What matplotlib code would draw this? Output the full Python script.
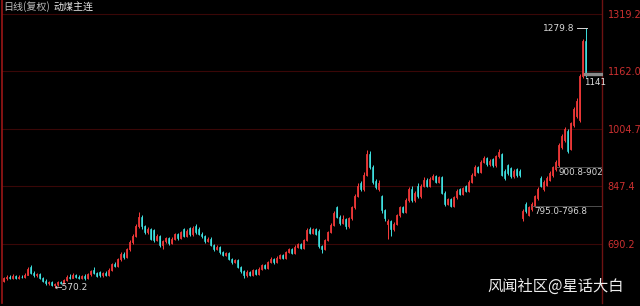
import numpy as np
import matplotlib
matplotlib.use('Agg')
import matplotlib.pyplot as plt

plt.rcParams['font.family'] = ['Noto Sans CJK SC', 'DejaVu Sans']

# daily candles, 动煤主连 (open / close / high / low)
opens = [588, 596, 601, 597, 603, 598, 601, 599, 606, 628,
         612, 604, 607, 596, 590, 583, 586, 578, 580, 586,
         584, 592, 601, 598, 604, 600, 597, 603, 596, 607,
         619, 611, 614, 604, 612, 606, 620, 636, 630, 648,
         664, 655, 676, 695, 712, 740, 765, 738, 722, 730,
         728, 700, 712, 688, 698, 706, 692, 704, 716, 706,
         730, 712, 734, 716, 740, 732, 718, 712, 698, 705,
         688, 676, 682, 668, 660, 665, 650, 640, 645, 628,
         615, 604, 614, 606, 618, 608, 622, 632, 625, 640,
         650, 640, 652, 660, 652, 668, 676, 666, 682, 690,
         680, 700, 732, 720, 730, 725, 684, 676, 700, 722,
         742, 790, 765, 748, 758, 738, 760, 790, 822, 858,
         840, 880, 935, 900, 862, 840, 820, 782, 745, 752,
         730, 745, 768, 790, 778, 810, 840, 810, 850, 820,
         850, 866, 850, 868, 876, 860, 872, 830, 800, 812,
         795, 818, 840, 828, 848, 835, 860, 880, 900, 888,
         915, 925, 908, 922, 905, 930, 935, 890, 905, 898,
         875, 895, 890, 760, 800, 770, 785, 795, 815, 870,
         840, 852, 865, 878, 895, 905, 955, 975, 1000, 950,
         1015, 1040, 1030, 1150, 1245]
closes = [596, 600, 597, 603, 598, 601, 599, 606, 622, 612,
          604, 607, 596, 590, 583, 586, 578, 580, 586, 584,
          592, 601, 598, 604, 600, 597, 603, 596, 607, 615,
          611, 603, 604, 610, 606, 620, 634, 630, 648, 662,
          655, 676, 695, 712, 740, 765, 738, 722, 730, 705,
          700, 712, 688, 698, 706, 692, 704, 716, 706, 722,
          712, 726, 716, 735, 722, 718, 712, 698, 705, 688,
          676, 682, 668, 660, 665, 650, 640, 645, 628, 615,
          604, 614, 606, 618, 608, 622, 632, 625, 640, 650,
          640, 652, 660, 652, 668, 676, 666, 682, 690, 680,
          700, 728, 720, 730, 718, 684, 676, 700, 722, 742,
          775, 765, 748, 758, 738, 760, 790, 822, 850, 840,
          880, 935, 900, 860, 845, 858, 782, 760, 752, 730,
          745, 768, 790, 778, 810, 840, 810, 830, 820, 850,
          866, 850, 868, 876, 860, 872, 830, 800, 812, 795,
          818, 835, 828, 842, 835, 860, 880, 900, 888, 915,
          925, 908, 918, 905, 930, 942, 880, 870, 885, 875,
          890, 878, 878, 780, 780, 790, 800, 820, 840, 850,
          860, 870, 885, 900, 915, 960, 985, 1005, 945, 1020,
          1060, 1080, 1150, 1245, 1155]
highs = [600, 604, 605, 607, 606, 604, 604, 610, 626, 632,
         616, 611, 610, 600, 593, 590, 589, 583, 589, 590,
         595, 606, 608, 612, 608, 604, 606, 607, 612, 620,
         626, 614, 617, 614, 616, 624, 638, 640, 652, 667,
         668, 680, 700, 718, 745, 777, 770, 742, 736, 733,
         732, 716, 715, 702, 710, 709, 708, 720, 719, 726,
         733, 730, 737, 740, 746, 736, 722, 715, 709, 708,
         691, 686, 685, 671, 669, 668, 653, 649, 648, 631,
         618, 618, 617, 622, 621, 626, 636, 635, 644, 654,
         653, 656, 664, 663, 672, 680, 679, 686, 694, 693,
         704, 733, 736, 735, 734, 730, 688, 704, 726, 747,
         780, 795, 768, 770, 762, 764, 795, 828, 856, 862,
         886, 947, 945, 905, 868, 866, 825, 786, 758, 756,
         749, 772, 795, 794, 815, 846, 850, 835, 856, 855,
         872, 870, 872, 881, 879, 876, 875, 834, 816, 815,
         822, 840, 844, 846, 852, 864, 885, 905, 904, 920,
         930, 928, 922, 926, 934, 950, 940, 894, 910, 902,
         895, 899, 894, 785, 804, 795, 806, 825, 845, 875,
         865, 875, 890, 904, 920, 965, 990, 1010, 1004, 1025,
         1066, 1090, 1155, 1250, 1279.8]
lows = [585, 592, 594, 595, 594, 595, 596, 597, 604, 609,
        600, 600, 593, 586, 579, 578, 574, 570.2, 576, 580,
        581, 589, 594, 596, 596, 593, 594, 592, 594, 603,
        608, 599, 600, 601, 602, 603, 617, 626, 627, 644,
        650, 652, 672, 690, 708, 735, 730, 716, 718, 700,
        696, 697, 682, 676, 694, 688, 689, 700, 702, 703,
        708, 709, 712, 713, 718, 714, 707, 694, 695, 684,
        672, 673, 664, 656, 657, 646, 636, 637, 624, 611,
        598, 601, 602, 603, 604, 605, 619, 621, 622, 637,
        636, 637, 649, 648, 649, 665, 662, 663, 679, 676,
        677, 697, 716, 717, 714, 680, 666, 673, 697, 719,
        739, 760, 743, 744, 732, 735, 757, 786, 818, 835,
        836, 876, 895, 855, 840, 836, 776, 754, 705, 712,
        726, 742, 765, 774, 775, 806, 806, 806, 815, 816,
        846, 846, 846, 864, 856, 856, 826, 795, 796, 790,
        792, 814, 824, 824, 831, 832, 856, 876, 884, 884,
        911, 904, 904, 900, 902, 926, 875, 865, 880, 870,
        871, 873, 873, 752, 776, 766, 781, 791, 811, 846,
        836, 848, 861, 874, 891, 900, 950, 970, 940, 946,
        1010, 1035, 1025, 1145, 1148]

ytick_vals = [1319.2, 1162.0, 1004.7, 847.4, 690.2]
gaps = [(795.0, '795.0-796.8', 176), (900.8, '900.8-902', 184)]
low_label = '570.2'
high_label = '1279.8'
last_label = '1141'

red = '#ff3c3c'
cyan = '#3fe0e0'

fig = plt.figure(figsize=(6.4, 3.06), dpi=100, facecolor='black')
ax = fig.add_axes([2/640, 3/306, 600/640, 303/306], facecolor='black')

o = np.array(opens, dtype=float)
c = np.array(closes, dtype=float)
h = np.array(highs, dtype=float)
l = np.array(lows, dtype=float)
x = np.arange(len(c))
up = c >= o

# wicks
ax.vlines(x[up], l[up], h[up], color=red, lw=0.7, zorder=3)
ax.vlines(x[~up], l[~up], h[~up], color=cyan, lw=0.7, zorder=3)
# bodies (red hollow, cyan filled)
body = np.maximum(np.abs(c - o), 1.5)
ax.bar(x[up], body[up], bottom=np.minimum(o, c)[up], width=0.6,
       facecolor='black', edgecolor=red, lw=0.6, zorder=4)
ax.bar(x[~up], body[~up], bottom=np.minimum(o, c)[~up], width=0.6,
       facecolor=cyan, edgecolor=cyan, lw=0.4, zorder=4)

ax.set_xlim(-0.5, 199.5)
ax.set_ylim(528.6, 1357.5)

for v in ytick_vals:
    ax.axhline(v, color='#3a0707', lw=0.8, zorder=1)

ax.yaxis.tick_right()
ax.set_yticks(ytick_vals)
ax.set_yticklabels(['%.1f' % v for v in ytick_vals], color='#cc3030', fontsize=7,
                   family='DejaVu Sans')
ax.tick_params(axis='y', length=0, pad=4)
ax.set_xticks([])

for side in ['top', 'bottom']:
    ax.spines[side].set_visible(False)
ax.spines['left'].set_color('#9a1616')
ax.spines['right'].set_color('#6e1212')
ax.spines['left'].set_linewidth(1.2)
ax.spines['right'].set_linewidth(1.0)

# gap markers
for price, txt, i0 in gaps:
    ax.plot([i0, 199.5], [price, price], color='#5a5a5a', lw=0.6, zorder=5)
    ax.text(i0 + 1, price - 4, txt, color='#d8d8d8', fontsize=6.3, va='top',
            ha='left', family='DejaVu Sans', zorder=6, clip_on=True)

# low / high markers
imin = int(np.argmin(l))
ax.text(imin, l[imin], '\u2190' + low_label, color='#d8d8d8', fontsize=6.5,
        va='center', ha='left', family='DejaVu Sans', zorder=6)
imax = int(np.argmax(h))
ax.plot([imax - 3, imax + 0.5], [h[imax], h[imax]], color='#d8d8d8', lw=0.7, zorder=6)
ax.text(imax - 3.7, h[imax], high_label, color='#d8d8d8', fontsize=6.5,
        va='center', ha='right', family='DejaVu Sans', zorder=6)

# last price marker
ax.fill_between([imax - 0.5, 199.5], c[-1] - 2, c[-1] + 4, color='#8a8a8a', zorder=5)
ax.text(imax - 0.6, c[-1] - 12, last_label, color='#e0e0e0', fontsize=6.3, va='top',
        ha='left', family='DejaVu Sans', zorder=6)

fig.text(3/640, 1 - 7/306, '日线(复权)', color='#bdbdbd', fontsize=7.2, va='center', ha='left')
fig.text(53/640, 1 - 7/306, '动煤主连', color='#e6e6e6', fontsize=7.2, va='center', ha='left')

fig.text(487/640, 1 - 286/306, '风闻社区@星话大白', color='#eeeeee', fontsize=11,
         va='center', ha='left')

fig.savefig('out.png', dpi=100, facecolor='black')
